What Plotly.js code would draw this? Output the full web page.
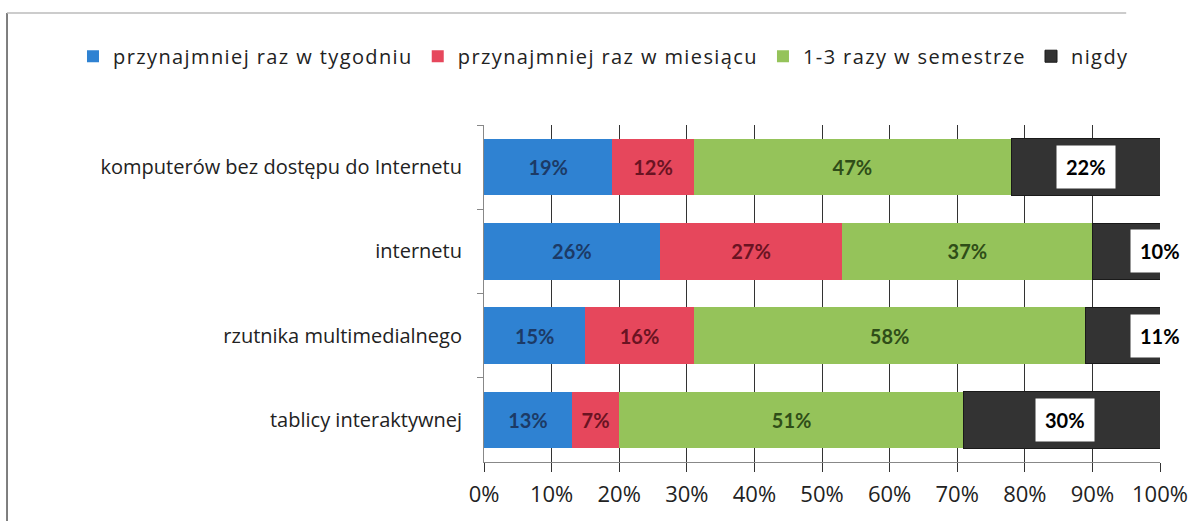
<!DOCTYPE html>
<html>
<head>
<meta charset="utf-8">
<script src="https://cdn.plot.ly/plotly-3.0.1.min.js"></script>
<style>
html,body{margin:0;padding:0;background:#fff;}
#chart{width:1192px;height:526px;}
.legendtext{letter-spacing:1.4px;}
</style>
</head>
<body>
<div id="chart"></div>
<script>
const categories = ["komputerów bez dostępu do Internetu", "internetu", "rzutnika multimedialnego", "tablicy interaktywnej"];
const seriesNames = ["przynajmniej raz w tygodniu", "przynajmniej raz w miesiącu", "1-3 razy w semestrze", "nigdy"];
const weekly = [19, 26, 15, 13];
const monthly = [12, 27, 16, 7];
const semester = [47, 37, 58, 51];
const never = [22, 10, 11, 30];
const xTicks = [0, 10, 20, 30, 40, 50, 60, 70, 80, 90, 100];
const xTickLabels = ["0%", "10%", "20%", "30%", "40%", "50%", "60%", "70%", "80%", "90%", "100%"];

const colors = ["#2f82d2", "#e6475c", "#95c35a", "#333333"];
const textColors = ["#1c3a66", "#6a1322", "#2f4d18", "#000"];
const FONT = "'Open Sans', Lato, sans-serif";
const LFONT = "Lato, 'Open Sans', sans-serif";
const allSeries = [weekly, monthly, semester, never];

const traces = allSeries.map((vals, i) => ({
  type: "bar",
  orientation: "h",
  name: seriesNames[i],
  y: categories,
  x: vals,
  marker: {color: colors[i], line: {width: i === 3 ? 1 : 0, color: "#1a1a1a"}},
  text: i < 3 ? vals.map(v => v + "%") : vals.map(() => ""),
  textposition: i < 3 ? "inside" : "none",
  insidetextanchor: "middle",
  textfont: {family: LFONT, size: 20, color: textColors[i], weight: "bold"},
  hoverinfo: "x+name"
}));

const annotations = categories.map((c, k) => {
  const start = weekly[k] + monthly[k] + semester[k];
  const mid = never[k] < 15 ? 100 : start + never[k] / 2;
  return {
    x: Math.min(mid, 100), y: c, xref: "x", yref: "y",
    text: "<b>" + never[k] + "%</b>",
    showarrow: false,
    bgcolor: "#ffffff",
    borderpad: 9,
    font: {family: LFONT, size: 20, color: "#000"},
    xanchor: "center"
  };
});

const layout = {
  width: 1192, height: 526,
  margin: {l: 484, r: 32, t: 125, b: 64},
  paper_bgcolor: "#ffffff",
  plot_bgcolor: "#ffffff",
  barmode: "stack",
  bargap: 0.33,
  showlegend: true,
  legend: {
    orientation: "h", xref: "paper", yref: "paper",
    x: -0.608, xanchor: "left", y: 1.262, yanchor: "top",
    font: {family: FONT, size: 20, color: "#222"},
    traceorder: "normal", itemwidth: 30
  },
  xaxis: {
    range: [0, 100],
    tickvals: xTicks, ticktext: xTickLabels,
    showgrid: true, gridcolor: "#333", gridwidth: 1,
    ticks: "outside", ticklen: 9, tickcolor: "#333",
    showline: true, linecolor: "#888", linewidth: 1,
    zeroline: false,
    tickfont: {family: FONT, size: 22, color: "#222"},
    ticklabelstandoff: 4,
    fixedrange: true
  },
  yaxis: {
    type: "category",
    autorange: "reversed",
    tickson: "boundaries",
    ticks: "outside", ticklen: 6, tickcolor: "#888",
    showline: true, linecolor: "#888", linewidth: 1,
    showgrid: false,
    tickfont: {family: FONT, size: 20, color: "#222"},
    ticklabelstandoff: 17,
    fixedrange: true
  },
  annotations: annotations,
  shapes: [
    {type: "line", xref: "paper", yref: "paper", x0: -0.7056, x1: -0.7056, y0: -0.175, y1: 1.332, line: {color: "#555", width: 1.5}},
    {type: "line", xref: "paper", yref: "paper", x0: -0.7056, x1: 0.95, y0: 1.332, y1: 1.332, line: {color: "#bbb", width: 1.5}}
  ]
};

Plotly.newPlot("chart", traces, layout, {displayModeBar: false, staticPlot: true});
</script>
</body>
</html>
